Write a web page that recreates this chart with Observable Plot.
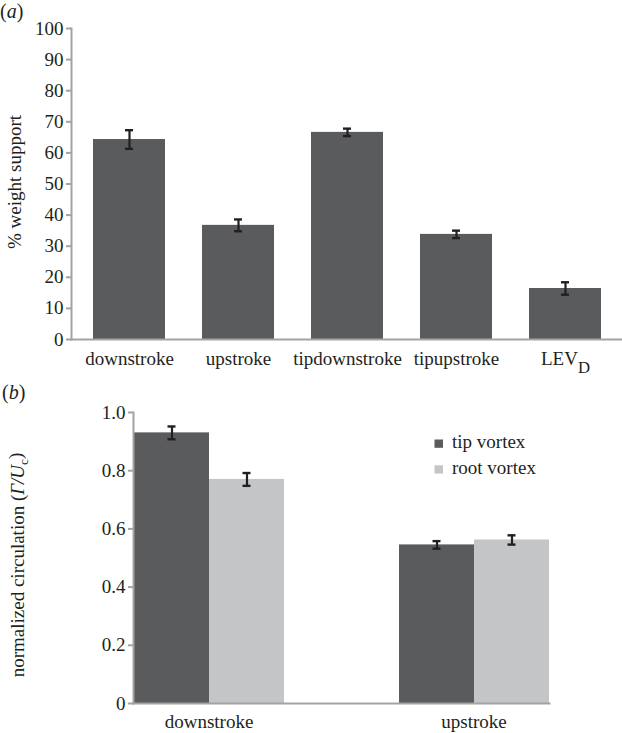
<!DOCTYPE html>
<html><head><meta charset="utf-8">
<script src="https://cdn.jsdelivr.net/npm/d3@7"></script>
<script src="https://cdn.jsdelivr.net/npm/@observablehq/plot@0.6"></script>
<style>
html,body{margin:0;padding:0;background:#fff;}
#wrap{position:relative;width:622px;height:733px;overflow:hidden;}
#wrap svg{display:block;}
</style></head><body><div id="wrap"></div>
<script>
// ---- Panel (a) data ----
const categoriesA = ["downstroke", "upstroke", "tipdownstroke", "tipupstroke", "LEV_D"];
const valuesA = [64.3, 36.7, 66.6, 33.8, 16.4];
const errorsA = [3.0, 1.9, 1.2, 1.2, 2.0];
const yTicksA = [0, 10, 20, 30, 40, 50, 60, 70, 80, 90, 100];

// ---- Panel (b) data ----
const groupsB = ["downstroke", "upstroke"];
const seriesB = ["tip vortex", "root vortex"];
const tipB = [0.93, 0.545];
const tipErrB = [0.022, 0.013];
const rootB = [0.77, 0.562];
const rootErrB = [0.022, 0.016];
const yTicksB = [0, 0.2, 0.4, 0.6, 0.8, 1.0];

const seriesColors = ["#5a5b5d", "#c4c5c7"];
const axisGray = "#a3a3a3";
const ink = "#231f20";
const svgNS = "http://www.w3.org/2000/svg";

const baseStyle = {
  fontFamily: "'Liberation Serif', 'Times New Roman', serif",
  fontSize: "19px",
  color: ink,
  background: "white",
  overflow: "visible"
};

const wrap = document.getElementById("wrap");

// ---------- Panel (a) ----------
const dataA = categoriesA.map((c, i) => ({cat: c, v: valuesA[i], e: errorsA[i]}));
const chartA = Plot.plot({
  width: 622, height: 365,
  marginLeft: 71, marginRight: 0, marginTop: 28, marginBottom: 26,
  style: baseStyle,
  x: {domain: categoriesA, paddingInner: 0.34, paddingOuter: 0.19, label: null},
  y: {domain: [0, 100], label: null},
  marks: [
    Plot.barY(dataA, {x: "cat", y: "v", fill: seriesColors[0]}),
    Plot.ruleX(dataA, {x: "cat", y1: d => d.v - d.e, y2: d => d.v + d.e, stroke: ink, strokeWidth: 2.2}),
    Plot.tickY(dataA, {x: "cat", y: d => d.v + d.e, insetLeft: 32, insetRight: 32, stroke: ink, strokeWidth: 2.4}),
    Plot.tickY(dataA, {x: "cat", y: d => d.v - d.e, insetLeft: 32, insetRight: 32, stroke: ink, strokeWidth: 2.4}),
    Plot.frame({anchor: "bottom", stroke: axisGray, strokeWidth: 2}),
    Plot.frame({anchor: "left", stroke: axisGray, strokeWidth: 2}),
    Plot.axisY({ticks: yTicksA, tickSize: 5, tickPadding: 3, stroke: axisGray, strokeWidth: 2, fill: ink, label: null}),
    Plot.axisX({tickSize: 0, tickPadding: 12, fill: ink, label: null})
  ]
});
wrap.appendChild(chartA);

(function decorateA() {
  const s = d3.select(chartA);
  // subscript for LEV_D
  chartA.querySelectorAll("text").forEach(t => {
    if (t.textContent === "LEV_D") {
      t.textContent = "LEV";
      const ts = document.createElementNS(svgNS, "tspan");
      ts.setAttribute("dy", "0.45em");
      ts.setAttribute("font-size", "88%");
      ts.textContent = "D";
      t.appendChild(ts);
    }
  });
  s.append("text")
    .attr("transform", "translate(21,182) rotate(-90)")
    .attr("text-anchor", "middle")
    .attr("fill", ink)
    .text("% weight support");
  const tag = s.append("text").attr("x", 0).attr("y", 18).attr("fill", ink)
    .attr("font-size", "20px").attr("text-anchor", "start");
  tag.append("tspan").text("(");
  tag.append("tspan").attr("font-style", "italic").text("a");
  tag.append("tspan").text(")");
})();

// ---------- Panel (b) ----------
const dataB = [];
groupsB.forEach((g, i) => {
  dataB.push({g, s: seriesB[0], v: tipB[i], e: tipErrB[i]});
  dataB.push({g, s: seriesB[1], v: rootB[i], e: rootErrB[i]});
});
const chartB = Plot.plot({
  width: 622, height: 368,
  marginLeft: 72, marginRight: 12, marginTop: 47, marginBottom: 30,
  style: baseStyle,
  fx: {domain: groupsB, paddingInner: 0.431, paddingOuter: 0.229, label: null},
  x: {domain: seriesB, padding: 0, axis: null},
  y: {domain: [0, 1], label: null},
  color: {domain: seriesB, range: seriesColors},
  marks: [
    Plot.barY(dataB, {fx: "g", x: "s", y: "v", fill: "s"}),
    Plot.ruleX(dataB, {fx: "g", x: "s", y1: d => d.v - d.e, y2: d => d.v + d.e, stroke: ink, strokeWidth: 2.2}),
    Plot.tickY(dataB, {fx: "g", x: "s", y: d => d.v + d.e, insetLeft: 33.5, insetRight: 33.5, stroke: ink, strokeWidth: 2.4}),
    Plot.tickY(dataB, {fx: "g", x: "s", y: d => d.v - d.e, insetLeft: 33.5, insetRight: 33.5, stroke: ink, strokeWidth: 2.4}),
    Plot.frame({anchor: "bottom", facet: "super", stroke: axisGray, strokeWidth: 2}),
    Plot.frame({anchor: "left", facet: "super", stroke: axisGray, strokeWidth: 2}),
    Plot.axisY({ticks: yTicksB, tickFormat: d => d === 0 ? "0" : d.toFixed(1), tickSize: 5, tickPadding: 3, stroke: axisGray, strokeWidth: 2, fill: ink, label: null}),
    Plot.axisFx({anchor: "bottom", tickSize: 0, tickPadding: 11, fill: ink, label: null})
  ]
});
wrap.appendChild(chartB);

(function decorateB() {
  const s = d3.select(chartB);
  const lab = s.append("text")
    .attr("transform", "translate(23.5,200) rotate(-90)")
    .attr("text-anchor", "middle")
    .attr("fill", ink);
  lab.append("tspan").text("normalized circulation (");
  lab.append("tspan").attr("font-style", "italic").text("\u0393/U");
  lab.append("tspan").attr("dy", "0.3em").attr("font-size", "70%").text("c");
  lab.append("tspan").attr("dy", "-0.3em").text(")");

  const tag = s.append("text").attr("x", 2).attr("y", 34).attr("fill", ink)
    .attr("font-size", "20px").attr("text-anchor", "start");
  tag.append("tspan").text("(");
  tag.append("tspan").attr("font-style", "italic").text("b");
  tag.append("tspan").text(")");

  // legend
  const lg = s.append("g").attr("text-anchor", "start");
  seriesB.forEach((name, i) => {
    lg.append("rect")
      .attr("x", 434.5).attr("y", 74.5 + i * 25.8)
      .attr("width", 8.5).attr("height", 8.3)
      .attr("fill", seriesColors[i]);
    lg.append("text")
      .attr("x", 452).attr("y", 83 + i * 25.5)
      .attr("fill", ink)
      .text(name);
  });
})();
</script>
</body></html>
